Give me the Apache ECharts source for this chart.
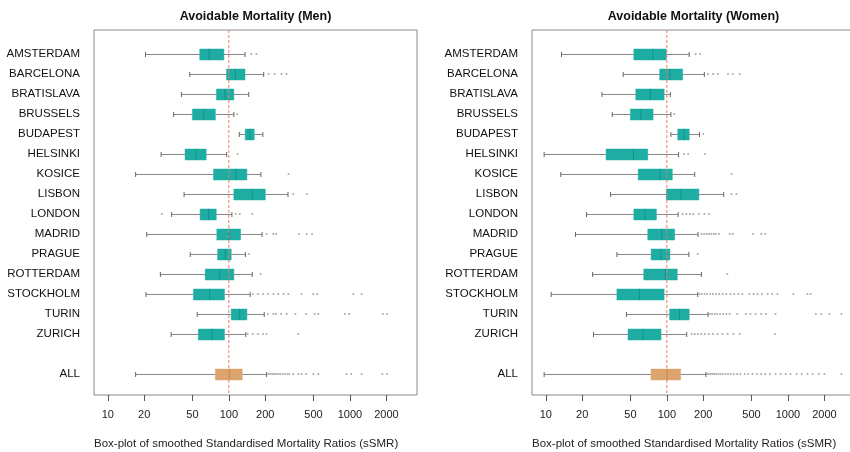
<!DOCTYPE html>
<html>
<head>
<meta charset="utf-8">
<script src="https://cdn.jsdelivr.net/npm/echarts@6/dist/echarts.min.js"></script>
<style>
  html, body { margin: 0; padding: 0; background: #ffffff; overflow: hidden; }
  /* the right-hand frame runs slightly past the visible 850px edge */
  #chart { width: 856px; height: 452px; }
</style>
</head>
<body>
<div id="chart"></div>
<script>
// Row labels: 15 cities, an empty spacer row, then the pooled "ALL" row
const cities = ['AMSTERDAM', 'BARCELONA', 'BRATISLAVA', 'BRUSSELS', 'BUDAPEST', 'HELSINKI',
  'KOSICE', 'LISBON', 'LONDON', 'MADRID', 'PRAGUE', 'ROTTERDAM', 'STOCKHOLM', 'TURIN', 'ZURICH'];
const allLabel = 'ALL';

// x-axis tick values (sSMR, log scale)
const tickValues = [10, 20, 50, 100, 200, 500, 1000, 2000];

// Box-plot summaries per row: [lower whisker, Q1, median, Q3, upper whisker]; last entry = ALL
const menBoxes = [
  [20.5, 57.5, 68.7, 91, 136],
  [47.6, 95.7, 113, 136, 194],
  [40.6, 79, 93, 110, 146],
  [35, 50, 62, 77.4, 110],
  [122, 136.5, 149, 162, 191],
  [27.6, 43.5, 53.4, 65, 96],
  [17, 74.7, 115, 141, 184],
  [42.7, 110, 156, 200, 308],
  [33.7, 57.9, 68, 78.7, 106],
  [21, 79.6, 100.5, 125, 188],
  [48, 80.8, 93.5, 104.6, 137],
  [27.2, 63.8, 84, 110, 156],
  [20.7, 51, 69.6, 92, 150],
  [54.8, 104.6, 123, 141, 196],
  [33.4, 56, 72.5, 92, 138],
  [17, 77.4, 101.5, 129, 205]
];
const menOutliers = [
  [153, 169],
  [213, 239, 272, 300],
  [],
  [117],
  [],
  [118],
  [311],
  [340, 440],
  [28, 114, 123, 156],
  [205, 233, 246, 380, 440, 487],
  [146],
  [183],
  [158, 174, 192, 210, 233, 256, 283, 310, 398, 498, 537, 1066, 1250],
  [210, 233, 245, 270, 300, 355, 435, 513, 548, 908, 985, 1870, 2030],
  [143, 158, 174, 192, 205, 374],
  [212, 220, 228, 236, 245, 255, 265, 278, 290, 305, 315, 340, 374, 398, 435, 498, 548, 937, 1026, 1250, 1850, 2030]
];

const womenBoxes = [
  [13.5, 53.4, 76.5, 99, 153],
  [43.6, 87.2, 106, 135, 204],
  [29.1, 55.4, 73, 95, 107],
  [35.4, 50, 61, 77, 108],
  [108, 123, 139, 153, 186],
  [9.7, 31.5, 53, 69.6, 125],
  [13.3, 58, 88, 111, 170],
  [34.3, 99, 131, 184, 295],
  [21.7, 53.4, 66, 82, 124],
  [17.6, 69.6, 91, 116, 181],
  [38.7, 74.2, 89.5, 106, 152],
  [24.4, 64.5, 97, 122, 193],
  [11.1, 38.7, 59.4, 95, 180],
  [46.4, 105.5, 127, 153, 219],
  [24.8, 47.8, 63.6, 89.5, 146],
  [9.7, 74, 101, 130, 210]
];
const womenOutliers = [
  [173, 188],
  [219, 241, 264, 320, 350, 400],
  [],
  [115],
  [200],
  [139, 150, 206],
  [342],
  [342, 375],
  [135, 145, 155, 165, 184, 204, 223],
  [193, 203, 213, 223, 233, 244, 254, 270, 330, 350, 516, 603, 650],
  [180],
  [316],
  [186, 195, 205, 215, 228, 240, 255, 270, 290, 310, 335, 360, 390, 420, 480, 520, 560, 610, 680, 740, 820, 1110, 1450, 1540],
  [226, 236, 248, 260, 275, 292, 310, 330, 381, 450, 490, 540, 600, 660, 790, 1700, 1880, 2200, 2770],
  [160, 170, 180, 192, 206, 222, 240, 262, 288, 318, 355, 400, 780],
  [215, 222, 230, 238, 247, 256, 266, 277, 290, 305, 320, 338, 358, 380, 405, 440, 470, 510, 555, 600, 650, 710, 790, 870, 960, 1050, 1180, 1300, 1450, 1600, 1800, 2000, 2770]
];

const referenceValue = 100;

// ---- styling ----
const FONT = "'Liberation Sans', Arial, sans-serif";
const BOX_COLOR = '#1fada3';
const BOX_MEDIAN = '#13918a';
const ALL_COLOR = '#dca56e';
const ALL_MEDIAN = '#c68f5a';
const WHISKER = '#888888';
const CAP = '#666666';
const OUTLIER = '#949494';
const FRAME = '#8a8a8a';
const TICK = '#555555';
const REF_LINE = '#f07a62';

const ALL_ROW = 16;
const Y_MIN = -1.2, Y_MAX = 17.05;
const rowOf = i => (i < cities.length ? i : ALL_ROW);
const rowLabels = cities.concat(['', allLabel]);
const labelRows = cities.map((_, i) => i).concat([ALL_ROW]);

function boxData(boxes) {
  return boxes.map((b, i) => [rowOf(i)].concat(b));
}
function outlierData(outs) {
  const pts = [];
  outs.forEach((list, i) => list.forEach(v => pts.push([v, rowOf(i)])));
  return pts;
}

function renderBox(params, api) {
  const row = api.value(0);
  const lo = api.coord([api.value(1), row]);
  const q1 = api.coord([api.value(2), row]);
  const md = api.coord([api.value(3), row]);
  const q3 = api.coord([api.value(4), row]);
  const hi = api.coord([api.value(5), row]);
  const y = Math.round(lo[1]) + 0.5;
  const halfBox = 5.5, halfCap = 2.5;
  const isAll = row === ALL_ROW;
  const fill = isAll ? ALL_COLOR : BOX_COLOR;
  const med = isAll ? ALL_MEDIAN : BOX_MEDIAN;
  return {
    type: 'group',
    children: [
      { type: 'line', shape: { x1: lo[0], y1: y, x2: q1[0], y2: y }, style: { stroke: WHISKER, lineWidth: 1 } },
      { type: 'line', shape: { x1: q3[0], y1: y, x2: hi[0], y2: y }, style: { stroke: WHISKER, lineWidth: 1 } },
      { type: 'line', shape: { x1: lo[0], y1: y - halfCap, x2: lo[0], y2: y + halfCap }, style: { stroke: CAP, lineWidth: 1 } },
      { type: 'line', shape: { x1: hi[0], y1: y - halfCap, x2: hi[0], y2: y + halfCap }, style: { stroke: CAP, lineWidth: 1 } },
      { type: 'rect', shape: { x: q1[0], y: y - halfBox, width: q3[0] - q1[0], height: halfBox * 2 }, style: { fill: fill, stroke: fill, lineWidth: 0.5 } },
      { type: 'line', shape: { x1: md[0], y1: y - halfBox, x2: md[0], y2: y + halfBox }, style: { stroke: med, lineWidth: 1 } }
    ]
  };
}

// outward tick marks under the frame, placed through the x scale
function renderTick(params, api) {
  const p = api.coord([api.value(0), Y_MAX]);
  const x = Math.round(p[0]) + 0.5;
  const y = Math.round(p[1]);
  return { type: 'line', shape: { x1: x, y1: y, x2: x, y2: y + 6 }, style: { stroke: TICK, lineWidth: 1 } };
}

const panels = [
  { title: 'Avoidable Mortality (Men)', left: 94, boxes: menBoxes, outliers: menOutliers },
  { title: 'Avoidable Mortality (Women)', left: 532, boxes: womenBoxes, outliers: womenOutliers }
];
const PLOT_TOP = 30, PLOT_H = 365, PLOT_W = 323;

const grids = [], xAxes = [], yAxes = [], series = [], graphics = [];
panels.forEach((p, k) => {
  grids.push({
    left: p.left, top: PLOT_TOP, width: PLOT_W, height: PLOT_H,
    show: true, borderColor: FRAME, borderWidth: 1, backgroundColor: 'transparent'
  });
  xAxes.push({
    gridIndex: k, type: 'log', logBase: 10, min: 7.7, max: 3580, position: 'bottom',
    axisLine: { show: false, onZero: false },
    axisTick: { show: false },
    axisLabel: {
      customValues: tickValues, margin: 14, fontSize: 11, fontFamily: FONT, color: '#222',
      formatter: v => String(Math.round(v))
    },
    splitLine: { show: false }
  });
  yAxes.push({
    gridIndex: k, type: 'value', inverse: true, min: Y_MIN, max: Y_MAX,
    axisLine: { show: false, onZero: false }, axisTick: { show: false }, splitLine: { show: false },
    axisLabel: {
      customValues: labelRows, margin: 14, fontSize: 11.5, fontFamily: FONT, color: '#111',
      formatter: v => rowLabels[Math.round(v)]
    }
  });
  // dashed reference line at sSMR = 100, spanning the full plot height
  series.push({
    type: 'line', xAxisIndex: k, yAxisIndex: k, silent: true,
    data: [[referenceValue, Y_MIN], [referenceValue, Y_MAX]],
    symbol: 'none',
    lineStyle: { color: REF_LINE, type: [3, 2], width: 1 },
    z: 5
  });
  series.push({
    type: 'custom', xAxisIndex: k, yAxisIndex: k, silent: true,
    renderItem: renderTick,
    encode: { x: 0 },
    data: tickValues.map(v => [v]),
    z: 4
  });
  series.push({
    type: 'custom', xAxisIndex: k, yAxisIndex: k, silent: true,
    renderItem: renderBox,
    encode: { x: [1, 2, 3, 4, 5], y: 0 },
    data: boxData(p.boxes),
    z: 3
  });
  series.push({
    type: 'scatter', xAxisIndex: k, yAxisIndex: k, silent: true,
    symbol: 'circle', symbolSize: 2,
    itemStyle: { color: OUTLIER },
    data: outlierData(p.outliers),
    z: 2
  });
  graphics.push({
    type: 'text', x: p.left + PLOT_W / 2, y: 17,
    style: { text: p.title, align: 'center', verticalAlign: 'middle', font: 'bold 12.5px ' + FONT, fill: '#111' }
  });
  graphics.push({
    type: 'text', x: p.left, y: 443.5,
    style: { text: 'Box-plot of smoothed Standardised Mortality Ratios (sSMR)', align: 'left', verticalAlign: 'middle', font: '11.5px ' + FONT, fill: '#222' }
  });
});

const chart = echarts.init(document.getElementById('chart'), null, { renderer: 'canvas' });
chart.setOption({
  animation: false,
  backgroundColor: '#ffffff',
  grid: grids,
  xAxis: xAxes,
  yAxis: yAxes,
  series: series,
  graphic: graphics
});
</script>
</body>
</html>
